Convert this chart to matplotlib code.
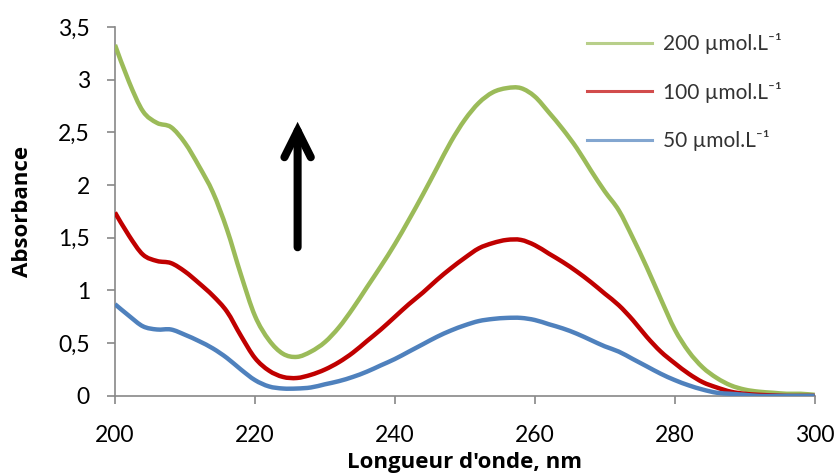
import numpy as np
import matplotlib
matplotlib.use("Agg")
import matplotlib.pyplot as plt
from matplotlib.path import Path
from matplotlib.patches import PathPatch
from matplotlib.lines import Line2D
from matplotlib.ticker import FuncFormatter

plt.rcParams['font.family'] = ['Lato', 'DejaVu Sans']

# absorption spectra, wavelength in nm
wavelength = [200, 202, 204, 206, 208, 210, 212, 214, 216, 218, 220, 222, 224, 226, 228,
              230, 232, 234, 236, 238, 240, 242, 244, 246, 248, 250, 252, 254, 256, 258,
              260, 262, 264, 266, 268, 270, 272, 274, 276, 278, 280, 282, 284, 286, 288,
              290, 292, 294, 296, 298, 300]

abs_200 = [3.33, 2.98, 2.70, 2.59, 2.55, 2.40, 2.18, 1.93, 1.58, 1.15, 0.76, 0.53, 0.40, 0.37, 0.42,
           0.51, 0.65, 0.83, 1.03, 1.23, 1.44, 1.67, 1.91, 2.16, 2.41, 2.62, 2.78, 2.88, 2.92, 2.92,
           2.84, 2.69, 2.53, 2.35, 2.14, 1.94, 1.76, 1.50, 1.22, 0.92, 0.63, 0.42, 0.27, 0.17, 0.10,
           0.06, 0.04, 0.03, 0.02, 0.02, 0.01]

abs_100 = [1.74, 1.52, 1.34, 1.28, 1.26, 1.18, 1.07, 0.95, 0.80, 0.57, 0.36, 0.24, 0.18, 0.17, 0.20,
           0.25, 0.32, 0.41, 0.52, 0.63, 0.75, 0.87, 0.98, 1.10, 1.21, 1.31, 1.40, 1.45, 1.48, 1.48,
           1.43, 1.35, 1.27, 1.18, 1.08, 0.97, 0.86, 0.72, 0.56, 0.42, 0.31, 0.21, 0.13, 0.08, 0.04,
           0.02, 0.01, 0.005, 0.0, 0.0, 0.0]

abs_50 = [0.87, 0.76, 0.66, 0.63, 0.63, 0.58, 0.52, 0.45, 0.36, 0.25, 0.15, 0.09, 0.07, 0.07, 0.08,
          0.11, 0.14, 0.18, 0.23, 0.29, 0.35, 0.42, 0.49, 0.56, 0.62, 0.67, 0.71, 0.73, 0.74, 0.74,
          0.72, 0.68, 0.64, 0.59, 0.53, 0.47, 0.42, 0.35, 0.28, 0.21, 0.15, 0.10, 0.06, 0.03, 0.02,
          0.01, 0.0, 0.0, 0.0, 0.0, 0.0]

labels = ['200 µmol.L⁻¹', '100 µmol.L⁻¹', '50 µmol.L⁻¹']
colors = ['#9BBB59', '#C00000', '#4F81BD']


def smooth_path(x, y):
    # bezier curve through the points (like a spreadsheet "smoothed line")
    x = np.asarray(x, float)
    y = np.asarray(y, float)
    px = np.concatenate([[x[0]], x, [x[-1]]])
    py = np.concatenate([[y[0]], y, [y[-1]]])
    verts = [(x[0], y[0])]
    codes = [Path.MOVETO]
    for i in range(1, len(px) - 2):
        c1 = (px[i] + (px[i + 1] - px[i - 1]) / 6, py[i] + (py[i + 1] - py[i - 1]) / 6)
        c2 = (px[i + 1] - (px[i + 2] - px[i]) / 6, py[i + 1] - (py[i + 2] - py[i]) / 6)
        verts += [c1, c2, (px[i + 1], py[i + 1])]
        codes += [Path.CURVE4] * 3
    return Path(verts, codes)


fig = plt.figure(figsize=(8.35, 4.73), dpi=100)
ax = fig.add_axes([0.1377, 0.163, 0.838, 0.78])

handles = []
for y, lab, c in zip([abs_200, abs_100, abs_50], labels, colors):
    ax.add_patch(PathPatch(smooth_path(wavelength, y), fill=False, edgecolor=c, lw=3.2,
                           joinstyle='round', capstyle='butt', zorder=3))
    handles.append(Line2D([], [], color=c, lw=2.2, alpha=0.7, label=lab))

# arrow showing increasing concentration
ax.annotate('', xy=(226.1, 2.60), xytext=(226.1, 1.41),
            arrowprops=dict(arrowstyle='->,head_length=1.9,head_width=0.95', lw=5.8,
                            color='black', shrinkA=0, shrinkB=0, mutation_scale=10,
                            capstyle='round', joinstyle='miter'))

ax.set_xlim(200, 300)
ax.set_ylim(0, 3.5)
ax.set_xticks(np.arange(200, 301, 20))
ax.set_yticks(np.arange(0, 3.51, 0.5))
ax.yaxis.set_major_formatter(FuncFormatter(lambda v, p: ('%g' % v).replace('.', ',')))

for s in ['top', 'right']:
    ax.spines[s].set_visible(False)
for s in ['left', 'bottom']:
    ax.spines[s].set_color('#888888')
    ax.spines[s].set_linewidth(1.2)
ax.tick_params(axis='both', colors='#888888', labelcolor='black', labelsize=16.5,
               length=6, width=1.2, direction='out')
ax.tick_params(axis='x', pad=15)
ax.tick_params(axis='y', pad=12)

ax.set_xlabel("Longueur d'onde, nm", fontsize=16, fontweight='bold', family='Open Sans')
ax.xaxis.set_label_coords(0.5, -0.152)
ax.set_ylabel('Absorbance', fontsize=16, fontweight='bold', family='Open Sans')
ax.yaxis.set_label_coords(-0.117, 0.5)

leg = fig.legend(handles=handles, loc='upper left', bbox_to_anchor=(0.68, 0.97),
                 frameon=False, fontsize=15, handlelength=3.15, labelspacing=1.33,
                 handletextpad=0.5)
for t in leg.get_texts():
    t.set_color('#333333')

fig.savefig('out.png', dpi=100)
